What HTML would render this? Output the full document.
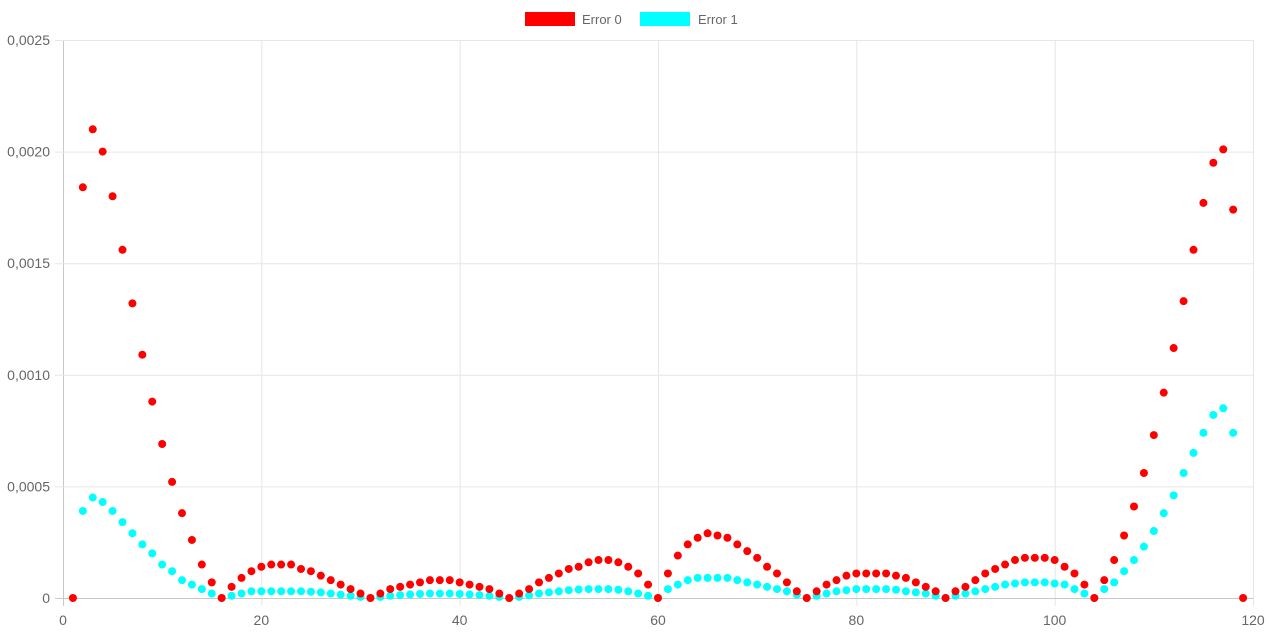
<!DOCTYPE html>
<html><head><meta charset="utf-8"><style>
body{margin:0;background:#fff;}
svg{display:block;font-family:"Liberation Sans",Arial,sans-serif;}
</style></head><body>
<svg id="chart" width="1269" height="634">
<g id="grid"></g>
<g id="axes"></g>
<g id="pts"></g>
<g>
<g><rect x="525" y="12" width="50" height="14" fill="#ff0000"/><text x="582" y="24" font-size="13" fill="#666">Error 0</text></g>
<g><rect x="640" y="12" width="50" height="14" fill="#00ffff"/><text x="698" y="24" font-size="13" fill="#666">Error 1</text></g>
</g>
</svg>
<script>
const xTicks=[0,20,40,60,80,100,120];
const yTicks=[0,0.0005,0.001,0.0015,0.002,0.0025];
const yTickLabels=["0","0,0005","0,0010","0,0015","0,0020","0,0025"];
const error0X=Array.from({length:119},(_,i)=>i+1);
const error0=[0,0.00184,0.0021,0.0020,0.0018,0.00156,0.00132,0.00109,0.00088,0.00069,0.00052,0.00038,0.00026,0.00015,0.00007,0,
0.00005,0.00009,0.00012,0.00014,0.00015,0.00015,0.00015,0.00013,0.00012,0.0001,0.00008,0.00006,0.00004,0.00002,0,
0.00002,0.00004,0.00005,0.00006,0.00007,0.00008,0.00008,0.00008,0.00007,0.00006,0.00005,0.00004,0.00002,0,
0.00002,0.00004,0.00007,0.00009,0.00011,0.00013,0.00014,0.00016,0.00017,0.00017,0.00016,0.00014,0.00011,0.00006,0,
0.00011,0.00019,0.00024,0.00027,0.00029,0.00028,0.00027,0.00024,0.00021,0.00018,0.00014,0.00011,0.00007,0.00003,0,
0.00003,0.00006,0.00008,0.0001,0.00011,0.00011,0.00011,0.00011,0.0001,0.00009,0.00007,0.00005,0.00003,0,
0.00003,0.00005,0.00008,0.00011,0.00013,0.00015,0.00017,0.00018,0.00018,0.00018,0.00017,0.00014,0.00011,0.00006,0,
0.00008,0.00017,0.00028,0.00041,0.00056,0.00073,0.00092,0.00112,0.00133,0.00156,0.00177,0.00195,0.00201,0.00174,0];
const error1X=Array.from({length:117},(_,i)=>i+2);
const error1=[0.00039,0.00045,0.00043,0.00039,0.00034,0.00029,0.00024,0.0002,0.00015,0.00012,0.00008,0.00006,0.00004,0.00002,0,
0.00001,0.00002,0.00003,0.00003,0.00003,0.00003,0.00003,0.00003,0.000028,0.000025,0.00002,0.000015,0.00001,0.000005,0,
0.000005,0.00001,0.000013,0.000016,0.000018,0.00002,0.00002,0.00002,0.000018,0.000016,0.000013,0.00001,0.000005,0,
0.000005,0.000012,0.00002,0.000025,0.00003,0.000035,0.000038,0.00004,0.00004,0.00004,0.000037,0.00003,0.00002,0.00001,0,
0.00004,0.00006,0.00008,0.00009,0.00009,0.00009,0.00009,0.00008,0.00007,0.00006,0.00005,0.00004,0.00003,0.000015,0,
0.00001,0.00002,0.00003,0.000035,0.00004,0.00004,0.00004,0.00004,0.000037,0.00003,0.000025,0.00002,0.00001,0,
0.00001,0.00002,0.00003,0.00004,0.00005,0.00006,0.000065,0.00007,0.00007,0.00007,0.000065,0.00006,0.00004,0.00002,0,
0.00004,0.00007,0.00012,0.00017,0.00023,0.0003,0.00038,0.00046,0.00056,0.00065,0.00074,0.00082,0.00085,0.00074];
const L=63,R=1253,T=40,B=598;
const sx=v=>L+(v-0)/120*(R-L);
const sy=v=>B-v/0.0025*(B-T);
const NS="http://www.w3.org/2000/svg";
function mk(tag,attrs,parent){const e=document.createElementNS(NS,tag);for(const k in attrs)e.setAttribute(k,attrs[k]);parent.appendChild(e);return e;}
const grid=document.getElementById('grid'),axes=document.getElementById('axes'),pts=document.getElementById('pts');
xTicks.forEach(t=>{
 const x=sx(t)+0.5;
 const g=mk('line',{x1:x,x2:x,y1:T,y2:B+8,stroke:t===0?'#c8c8c8':'#e6e6e6','stroke-width':1},grid);
 
 
 const tx=mk('text',{x:sx(t),y:B+27,'text-anchor':'middle','font-size':14,fill:'#666'},axes);
 tx.textContent=String(t);
 
 
});
yTicks.forEach((t,i)=>{
 const y=sy(t)+0.5;
 const g=mk('line',{x1:L-8,x2:R,y1:y,y2:y,stroke:t===0?'#c8c8c8':'#e6e6e6','stroke-width':1},grid);
 
 
 const tx=mk('text',{x:L-13,y:sy(t)+5,'text-anchor':'end','font-size':14,fill:'#666'},axes);
 tx.textContent=yTickLabels[i];
 
 
});
error1.forEach((v,i)=>{
 if(error1X[i]===undefined)return;
 const c=mk('circle',{cx:sx(error1X[i]),cy:sy(v),r:4,fill:'#00ffff'},pts);
 
 
});
error0.forEach((v,i)=>{
 const c=mk('circle',{cx:sx(error0X[i]),cy:sy(v),r:4,fill:'#ff0000'},pts);
 
 
});
</script>
</body></html>
